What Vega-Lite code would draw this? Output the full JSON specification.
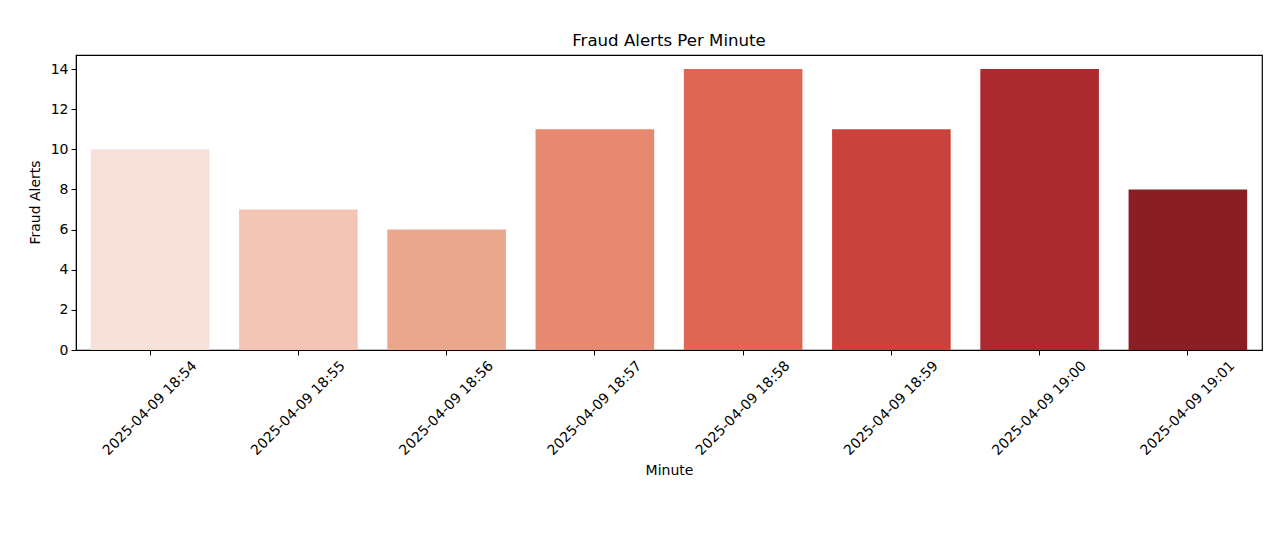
{
  "$schema": "https://vega.github.io/schema/vega-lite/v6.json",
  "autosize": {"type": "none"},
  "padding": {"left": 76, "top": 55, "right": 18, "bottom": 190},
  "width": 1186,
  "height": 295,
  "background": "white",
  "title": {"text": "Fraud Alerts Per Minute", "font": "DejaVu Sans", "fontSize": 16.6, "fontWeight": "normal", "color": "#000000", "anchor": "middle", "frame": "group", "offset": 5},
  "config": {
    "view": {"stroke": "#000000", "strokeWidth": 1.2},
    "axis": {"labelFont": "DejaVu Sans", "titleFont": "DejaVu Sans", "labelFontSize": 14, "titleFontSize": 14, "titleFontWeight": "normal", "labelColor": "#000000", "titleColor": "#000000", "domainColor": "#000000", "tickColor": "#000000", "tickSize": 5, "grid": false}
  },
  "data": {"values": [
    {"minute": "2025-04-09 18:54", "alerts": 10},
    {"minute": "2025-04-09 18:55", "alerts": 7},
    {"minute": "2025-04-09 18:56", "alerts": 6},
    {"minute": "2025-04-09 18:57", "alerts": 11},
    {"minute": "2025-04-09 18:58", "alerts": 14},
    {"minute": "2025-04-09 18:59", "alerts": 11},
    {"minute": "2025-04-09 19:00", "alerts": 14},
    {"minute": "2025-04-09 19:01", "alerts": 8}
  ]},
  "mark": {"type": "bar"},
  "encoding": {
    "x": {"field": "minute", "type": "nominal", "sort": null,
      "scale": {"paddingInner": 0.2, "paddingOuter": 0.1},
      "axis": {"title": "Minute", "labelAngle": -45, "labelAlign": "center", "labelBaseline": "middle", "labelPadding": 53, "titleY": 120, "titleBaseline": "middle"}},
    "y": {"field": "alerts", "type": "quantitative",
      "scale": {"domain": [0, 14.7], "nice": false},
      "axis": {"title": "Fraud Alerts", "values": [0, 2, 4, 6, 8, 10, 12, 14], "titleX": -41, "titleY": 147, "titleAlign": "center", "titleBaseline": "middle", "labelPadding": 3}},
    "color": {"field": "minute", "type": "nominal", "sort": null, "legend": null,
      "scale": {"domain": ["2025-04-09 18:54", "2025-04-09 18:55", "2025-04-09 18:56", "2025-04-09 18:57", "2025-04-09 18:58", "2025-04-09 18:59", "2025-04-09 19:00", "2025-04-09 19:01"],
        "range": ["#f6e2d9", "#f2c5b4", "#eba68e", "#e78970", "#de6655", "#c9433c", "#aa2a2f", "#8b1e23"]}}
  }
}
